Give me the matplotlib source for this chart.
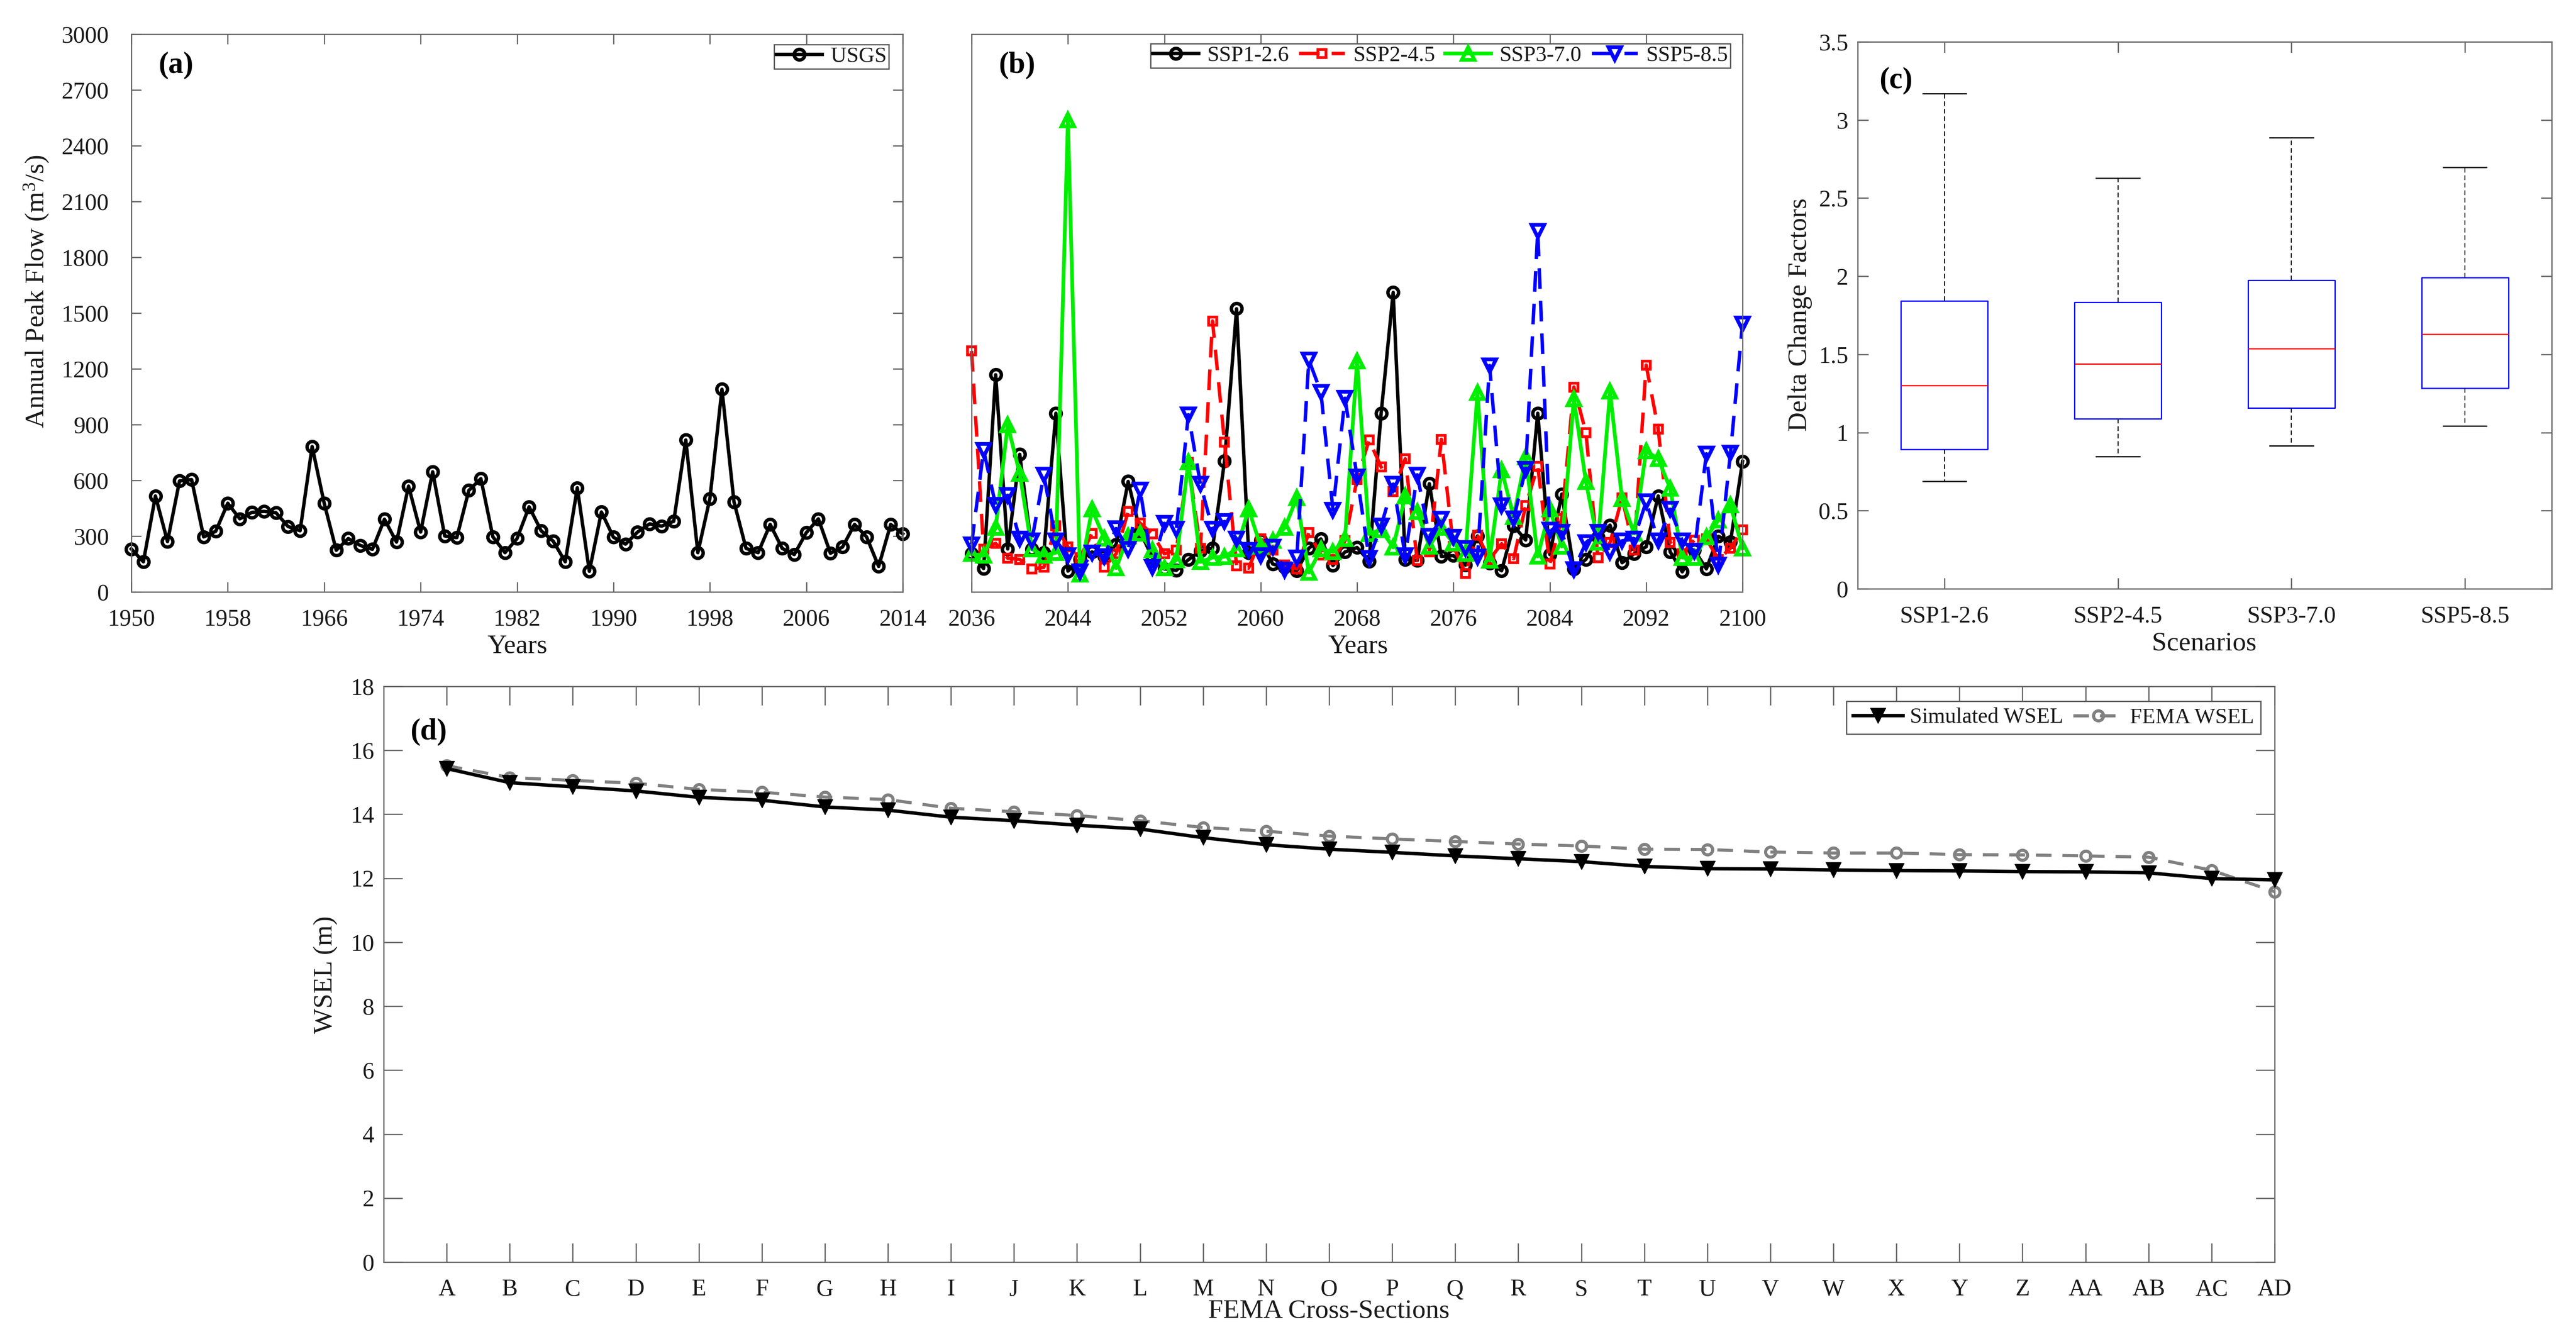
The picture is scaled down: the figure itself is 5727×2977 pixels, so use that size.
import numpy as np
import matplotlib
matplotlib.use("Agg")
import matplotlib.pyplot as plt

W = 5727
H = 2977
FONT = "Liberation Serif"
SPINE = "#666666"

plt.rcParams["font.family"] = [FONT, "DejaVu Serif"]
plt.rcParams["mathtext.fontset"] = "custom"
plt.rcParams["mathtext.rm"] = FONT
plt.rcParams["mathtext.it"] = FONT
plt.rcParams["mathtext.bf"] = FONT + ":bold"

# (a) observed annual peak flow
years_obs = np.arange(1950, 2015)
usgs = [231, 162, 516, 271, 597, 604, 296, 326, 477, 393, 428, 433, 426, 352, 329, 782,
        477, 224, 287, 250, 229, 391, 268, 569, 322, 646, 301, 292, 546, 609, 296, 211,
        287, 458, 329, 273, 162, 560, 111, 430, 294, 257, 322, 366, 354, 380, 817, 211,
        502, 1090, 484, 234, 211, 363, 234, 201, 319, 393, 208, 241, 363, 296, 137, 363, 312]

# (b) projected annual peak flow
years_fut = np.arange(2036, 2101)
ssp126 = [205, 126, 1168, 231, 740, 231, 211, 961, 112, 175, 215, 190, 255, 594, 325, 185,
          124, 116, 173, 221, 235, 704, 1523, 211, 279, 150, 134, 114, 235, 285, 142, 215,
          239, 165, 961, 1611, 175, 169, 582, 191, 195, 144, 301, 155, 114, 355, 279, 961,
          201, 526, 124, 175, 295, 359, 157, 205, 243, 516, 215, 108, 225, 124, 299, 269, 702]
ssp245 = [1296, 231, 261, 181, 175, 124, 132, 355, 241, 185, 315, 132, 205, 433, 369, 313,
          205, 225, 696, 235, 1457, 805, 140, 128, 285, 225, 144, 124, 319, 199, 175, 275,
          606, 817, 672, 540, 716, 169, 215, 821, 245, 98, 305, 175, 259, 179, 464, 676,
          150, 395, 1102, 857, 183, 265, 506, 225, 1220, 877, 265, 205, 279, 285, 175, 235, 335]
ssp370 = [205, 195, 345, 897, 636, 231, 195, 211, 2539, 94, 445, 289, 128, 299, 315, 225,
          128, 171, 700, 161, 185, 189, 231, 445, 245, 275, 345, 506, 104, 231, 215, 285,
          1242, 311, 335, 239, 516, 431, 245, 345, 261, 205, 1072, 169, 656, 405, 726, 191,
          445, 245, 1038, 592, 265, 1078, 500, 315, 757, 716, 556, 185, 185, 295, 385, 466, 235]
ssp585 = [255, 763, 466, 520, 285, 275, 630, 275, 195, 110, 211, 191, 341, 229, 548, 134,
          369, 339, 953, 580, 339, 379, 285, 225, 195, 241, 118, 185, 1248, 1074, 441, 1042,
          620, 181, 355, 580, 195, 630, 299, 391, 295, 235, 189, 1218, 464, 395, 660, 1941,
          335, 321, 120, 265, 321, 215, 275, 285, 486, 275, 445, 275, 219, 743, 144, 747, 1443]

# (c) delta change factors
scenarios = ["SSP1-2.6", "SSP2-4.5", "SSP3-7.0", "SSP5-8.5"]
whisker_high = [3.17, 2.627, 2.886, 2.696]
q3 = [1.842, 1.834, 1.975, 1.991]
medians = [1.30, 1.44, 1.537, 1.628]
q1 = [0.892, 1.088, 1.157, 1.283]
whisker_low = [0.688, 0.845, 0.914, 1.041]
delta_ticks = [0, 0.5, 1, 1.5, 2, 2.5, 3, 3.5]
delta_labels = ["0", "0.5", "1", "1.5", "2", "2.5", "3", "3.5"]

# (d) water surface elevation
sections = ["A", "B", "C", "D", "E", "F", "G", "H", "I", "J", "K", "L", "M", "N", "O", "P",
            "Q", "R", "S", "T", "U", "V", "W", "X", "Y", "Z", "AA", "AB", "AC", "AD"]
sim_wsel = [15.43, 14.99, 14.86, 14.73, 14.53, 14.44, 14.23, 14.13, 13.91, 13.80, 13.66, 13.54,
            13.27, 13.05, 12.91, 12.81, 12.70, 12.61, 12.52, 12.37, 12.30, 12.29, 12.26, 12.24,
            12.23, 12.21, 12.20, 12.17, 11.99, 11.95]
fema_wsel = [15.52, 15.15, 15.06, 14.97, 14.78, 14.69, 14.54, 14.46, 14.19, 14.08, 13.96, 13.80,
             13.59, 13.47, 13.32, 13.23, 13.15, 13.07, 13.01, 12.91, 12.90, 12.82, 12.79, 12.79,
             12.74, 12.73, 12.70, 12.66, 12.25, 11.58]


def make_axes(fig, left, top, right, bottom):
    ax = fig.add_axes([left / W, 1 - bottom / H, (right - left) / W, (bottom - top) / H])
    for spine in ax.spines.values():
        spine.set_color(SPINE)
        spine.set_linewidth(2)
    return ax


def style_ticks(ax, length, xpad, ypad, size=38):
    ax.tick_params(axis="both", direction="in", top=True, right=True, length=length,
                   width=2, color=SPINE, labelsize=size, labelcolor="#1a1a1a")
    ax.tick_params(axis="x", pad=xpad)
    ax.tick_params(axis="y", pad=ypad)


def label_at(ax, text, x, y, axis):
    # centre an axis label on a pixel position of the figure
    box = ax.get_position()
    ax_x = (x / W - box.x0) / box.width
    ax_y = ((1 - y / H) - box.y0) / box.height
    if axis == "x":
        ax.set_xlabel(text, fontsize=43, color="#1a1a1a", va="center", ha="center")
        ax.xaxis.set_label_coords(ax_x, ax_y)
    else:
        ax.set_ylabel(text, fontsize=43, color="#1a1a1a", va="center", ha="center")
        ax.yaxis.set_label_coords(ax_x, ax_y)


def panel_tag(fig, text, x, y):
    fig.text(x / W, 1 - y / H, text, fontsize=48, fontweight="bold", ha="center", va="center")


def add_legend(fig, ax, right, top, **kwargs):
    opts = dict(loc="upper right", bbox_to_anchor=(right / W, 1 - top / H),
                bbox_transform=fig.transFigure, borderaxespad=0, fontsize=35, fancybox=False,
                framealpha=1, edgecolor="#555555", numpoints=1, borderpad=0.1,
                handlelength=2.1, handletextpad=0.39, columnspacing=0.45, labelspacing=0.1)
    opts.update(kwargs)
    legend = ax.legend(**opts)
    legend.get_frame().set_linewidth(2)
    for txt in legend.get_texts():
        txt.set_color("#1a1a1a")
    return legend


def draw_peak_obs(fig):
    ax = make_axes(fig, 292, 76, 2007, 1316)
    ax.plot(years_obs, usgs, color="black", lw=5.5, marker="o", ms=17, mfc="none", mew=5.5,
            clip_on=False, label="USGS")
    ax.set_xlim(1950, 2014)
    ax.set_ylim(0, 3000)
    ax.set_xticks(np.arange(1950, 2015, 8))
    ax.set_yticks(np.arange(0, 3001, 300))
    style_ticks(ax, 16, 27, 36)
    label_at(ax, "Years", 1150, 1438, "x")
    label_at(ax, "Annual Peak Flow (m$^{3}$/s)", 81, 648, "y")
    panel_tag(fig, "(a)", 391, 145)
    add_legend(fig, ax, 1976, 99)


def draw_peak_future(fig):
    ax = make_axes(fig, 2160, 76, 3874, 1316)
    dash = (0, (6, 3.5))
    ax.plot(years_fut, ssp126, color="black", lw=5.5, marker="o", ms=17, mfc="none", mew=5.5,
            clip_on=False, label="SSP1-2.6")
    ax.plot(years_fut, ssp245, color="#FF0000", lw=5.5, ls=dash, marker="s", ms=13, mfc="none",
            mew=4.5, clip_on=False, label="SSP2-4.5")
    ax.plot(years_fut, ssp370, color="#00EE00", lw=6, marker="^", ms=20, mfc="none", mew=6,
            clip_on=False, label="SSP3-7.0")
    ax.plot(years_fut, ssp585, color="#0000FF", lw=5.5, ls=dash, marker="v", ms=20, mfc="none",
            mew=6, clip_on=False, label="SSP5-8.5")
    ax.set_xlim(2036, 2100)
    ax.set_ylim(0, 3000)
    ax.set_xticks(np.arange(2036, 2101, 8))
    ax.set_yticks([])
    style_ticks(ax, 16, 27, 36)
    label_at(ax, "Years", 3019, 1438, "x")
    panel_tag(fig, "(b)", 2261, 145)
    add_legend(fig, ax, 3847, 97, ncol=4)


def draw_delta(fig):
    ax = make_axes(fig, 4130, 93, 5673, 1309)
    stats = []
    for i, name in enumerate(scenarios):
        stats.append(dict(label=name, whislo=whisker_low[i], q1=q1[i], med=medians[i],
                          q3=q3[i], whishi=whisker_high[i], fliers=[]))
    ax.bxp(stats, positions=np.arange(1, 5), widths=0.5, showfliers=False,
           boxprops=dict(color="#0000FF", lw=2),
           medianprops=dict(color="#FF0000", lw=2),
           whiskerprops=dict(color="black", lw=1.5, ls=(0, (5, 3))),
           capprops=dict(color="black", lw=2), capwidths=0.25)
    ax.set_xlim(0.5, 4.5)
    ax.set_ylim(0, 3.5)
    ax.set_yticks(delta_ticks)
    ax.set_yticklabels(delta_labels)
    style_ticks(ax, 17, 27, 15)
    label_at(ax, "Scenarios", 4900, 1431, "x")
    label_at(ax, "Delta Change Factors", 4002, 700, "y")
    panel_tag(fig, "(c)", 4215, 179)


def draw_wsel(fig):
    ax = make_axes(fig, 853, 1526, 5057, 2806)
    x = np.arange(1, len(sections) + 1)
    ax.plot(x, sim_wsel, color="black", lw=5.5, marker="v", ms=24, mec="black", mfc="black",
            clip_on=False, label="Simulated WSEL", zorder=4)
    ax.plot(x, fema_wsel, color="#808080", lw=5, ls=(0, (5, 3.5)), marker="o", ms=16, mfc="none",
            mew=5, clip_on=False, label="FEMA WSEL", zorder=3)
    ax.set_xlim(0, 30)
    ax.set_ylim(0, 18)
    ax.set_xticks(x)
    ax.set_xticklabels(sections)
    ax.set_yticks(np.arange(0, 19, 2))
    style_ticks(ax, 30, 27, 15)
    label_at(ax, "FEMA Cross-Sections", 2954, 2916, "x")
    label_at(ax, "WSEL (m)", 723, 2167, "y")
    panel_tag(fig, "(d)", 953, 1627)
    add_legend(fig, ax, 5026, 1559, ncol=2, handlelength=2.3, handletextpad=0.3, borderpad=0.3)


def main():
    fig = plt.figure(figsize=(W / 100, H / 100), dpi=100, facecolor="white")
    draw_peak_obs(fig)
    draw_peak_future(fig)
    draw_delta(fig)
    draw_wsel(fig)
    fig.savefig("out.png", dpi=100)


if __name__ == "__main__":
    main()
